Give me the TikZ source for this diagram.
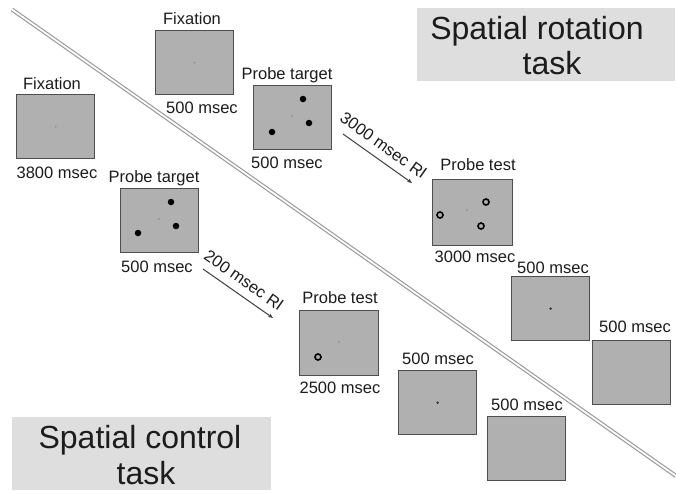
\documentclass[tikz,border=0pt]{standalone}
\usepackage{fontspec}
\setmainfont{Liberation Sans}
\usetikzlibrary{arrows.meta}
\definecolor{scr}{RGB}{176,176,176}
\definecolor{scrb}{RGB}{78,78,78}
\definecolor{ttl}{RGB}{222,222,222}
\definecolor{txt}{RGB}{28,28,28}
\definecolor{ln}{RGB}{150,150,150}
\definecolor{fixc}{RGB}{150,150,150}
\definecolor{darkdot}{RGB}{50,50,50}
\begin{document}
\begin{tikzpicture}[x=1pt,y=-1pt,
  screen/.style={draw=scrb, line width=1.2pt, fill=scr, minimum width=78pt, minimum height=64pt, anchor=north west, inner sep=0pt},
  lbl/.style={font=\fontsize{16.5}{19}\selectfont, text=txt, inner sep=0pt, text height=11.9pt, text depth=0pt},
  big/.style={font=\fontsize{32}{35}\selectfont, text=txt, inner sep=0pt, text height=23pt, text depth=0pt},
  ttlbox/.style={fill=ttl, draw=none, anchor=north west, inner sep=0pt},
  fix/.style={circle, fill=fixc, inner sep=0pt, minimum size=2.4pt},
  cdot/.style={circle, fill=darkdot, inner sep=0pt, minimum size=2.6pt},
  pdot/.style={circle, fill=black, inner sep=0pt, minimum size=6.5pt},
  pring/.style={circle, draw=black, line width=1.6pt, inner sep=0pt, minimum size=6pt},
  arr/.style={draw=txt!85, line width=1pt, -{Stealth[length=5pt,width=4pt]}},
  divider/.style={draw=ln, line width=1.1pt, double=white, double distance=1.8pt}
]
\useasboundingbox (0,0) rectangle (676,490);
\fill[white] (0,0) rectangle (676,490);

% title boxes
\node[ttlbox, minimum width=258pt, minimum height=73pt] (rotbox) at (417,8) {};
\node[big] (rot1) at (537,28) {Spatial rotation};
\node[big] (rot2) at (552,63) {task};
\node[ttlbox, minimum width=259pt, minimum height=73pt] (ctlbox) at (12,417) {};
\node[big] (ctl1) at (140,437) {Spatial control};
\node[big] (ctl2) at (146,473) {task};

% divider
\coordinate (d1) at (12,9.5);
\coordinate (d2) at (676,476);
\draw[divider] (d1) -- (d2);

% screens
\node[screen] (fixL) at (16,94) {};
\node[screen] (fixT) at (155,30) {};
\node[screen] (ptT) at (253,85) {};
\node[screen] (ptL) at (120,188) {};
\node[screen, minimum width=80pt, minimum height=66pt] (pteT) at (432,179) {};
\node[screen, minimum width=79pt, minimum height=65pt] (pteL) at (299,310) {};
\node[screen] (sA) at (511,276) {};
\node[screen] (sB) at (592,340) {};
\node[screen] (sC) at (398,370) {};
\node[screen] (sD) at (487,416) {};

% fixation points
\node[fix] (fL) at (fixL.center) {};
\node[fix] (fT) at (fixT.center) {};
\node[fix] (fpT) at (292,116) {};
\node[fix] (fpL) at (159,219) {};
\node[fix] (feT) at (467,210) {};
\node[fix] (feL) at (339,342) {};
\node[cdot] (cA) at (sA.center) {};
\node[cdot] (cC) at (sC.center) {};

% probe dots
\node[pdot] (pT1) at (303,99) {};
\node[pdot] (pT2) at (309,123) {};
\node[pdot] (pT3) at (272,132) {};
\node[pdot] (pL1) at (171,202) {};
\node[pdot] (pL2) at (176,226) {};
\node[pdot] (pL3) at (138,233) {};
\node[pring] (rT1) at (486,202) {};
\node[pring] (rT2) at (440,215) {};
\node[pring] (rT3) at (481,226) {};
\node[pring] (rL1) at (318,357) {};

% labels
\node[lbl] (tfixL) at (52,84) {Fixation};
\node[lbl] (tfixLb) at (57,173) {3800 msec};
\node[lbl] (tfixT) at (192,19) {Fixation};
\node[lbl] (tfixTb) at (202,108) {500 msec};
\node[lbl] (tptT) at (287,74) {Probe target};
\node[lbl] (tptTb) at (287,163) {500 msec};
\node[lbl] (tptL) at (154,177) {Probe target};
\node[lbl] (tptLb) at (157,267) {500 msec};
\node[lbl] (tpteT) at (478,165) {Probe test};
\node[lbl] (tpteTb) at (475,257) {3000 msec};
\node[lbl] (tpteL) at (340,298) {Probe test};
\node[lbl] (tpteLb) at (340,388) {2500 msec};
\node[lbl] (tsA) at (553,268) {500 msec};
\node[lbl] (tsB) at (635,327) {500 msec};
\node[lbl] (tsC) at (438,359) {500 msec};
\node[lbl] (tsD) at (527,405) {500 msec};

% arrows
\coordinate (a1) at (343,134);
\coordinate (a2) at (412,183);
\coordinate (b1) at (203,269);
\coordinate (b2) at (273,318);
\draw[arr] (a1) -- node[lbl, sloped, above=8pt, pos=0.47] (la) {3000 msec RI} (a2);
\draw[arr] (b1) -- node[lbl, sloped, above=8pt, pos=0.47] (lb) {200 msec RI} (b2);
\end{tikzpicture}
\end{document}
